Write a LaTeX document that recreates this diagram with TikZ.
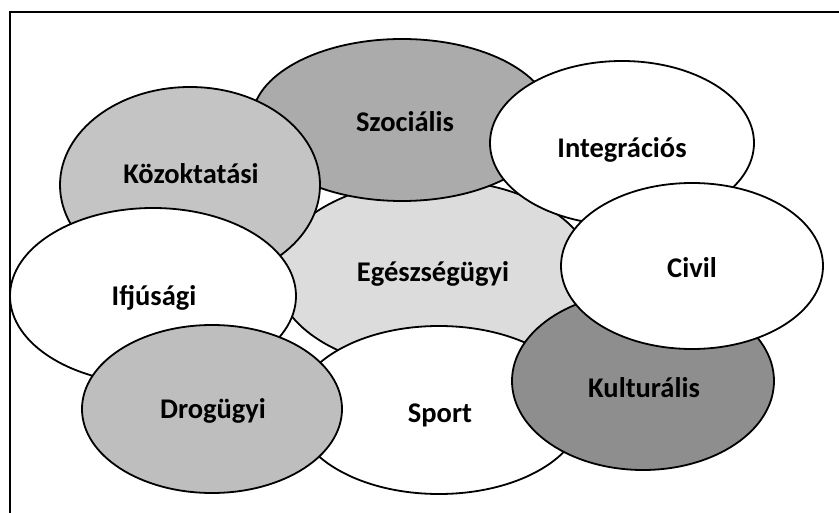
\documentclass[tikz,border=0pt]{standalone}
\usepackage{fontspec}
\setmainfont{Carlito}
\usetikzlibrary{shapes.geometric}
\definecolor{gEgesz}{HTML}{DCDCDC}
\definecolor{gSzoc}{HTML}{ABABAB}
\definecolor{gKoz}{HTML}{C4C4C4}
\definecolor{gDrog}{HTML}{BEBEBE}
\definecolor{gKult}{HTML}{8E8E8E}
\tikzset{
  blob/.style={ellipse, draw=black, line width=1.8pt, inner sep=0pt},
  lbl/.style={anchor=base, inner sep=0pt, text=black,
    font=\fontsize{28.5}{32}\selectfont\bfseries},
}
\begin{document}
\begin{tikzpicture}[x=1pt,y=-1pt]
\useasboundingbox (0,0) rectangle (839,513);
\draw[line width=1.5pt] (10,513) coordinate (fb) -- (10,12) coordinate (fc) -- (839,12) coordinate (fr);
% ellipses, bottom to top
\node[blob, fill=gEgesz, minimum width=318pt, minimum height=190pt] (egesz) at (435,275) {};
\node[blob, fill=gSzoc, minimum width=300pt, minimum height=162pt] (szoc) at (402,120) {};
\node[blob, fill=white, minimum width=264pt, minimum height=164pt] (integr) at (622,143) {};
\node[blob, fill=white, minimum width=288pt, minimum height=168pt] (sport) at (439,410) {};
\node[blob, fill=gKoz, minimum width=260pt, minimum height=196pt] (kozokt) at (190,185) {};
\node[blob, fill=white, minimum width=286pt, minimum height=176pt] (ifju) at (153,296) {};
\node[blob, fill=gDrog, minimum width=260pt, minimum height=168pt] (drog) at (212,409) {};
\node[blob, fill=gKult, minimum width=262pt, minimum height=178pt] (kult) at (643,381) {};
\node[blob, fill=white, minimum width=262pt, minimum height=166pt] (civil) at (692,266) {};
% labels
\node[lbl] (t-egesz) at (433,282) {Egészségügyi};
\node[lbl] (t-szoc) at (405,132) {Szociális};
\node[lbl] (t-integr) at (622,158) {Integrációs};
\node[lbl] (t-sport) at (440,422) {Sport};
\node[lbl] (t-kozokt) at (191,184) {Közoktatási};
\node[lbl] (t-ifju) at (154,306) {Ifjúsági};
\node[lbl] (t-drog) at (213,418) {Drogügyi};
\node[lbl] (t-kult) at (644,397) {Kulturális};
\node[lbl] (t-civil) at (692,278) {Civil};
\end{tikzpicture}
\end{document}
